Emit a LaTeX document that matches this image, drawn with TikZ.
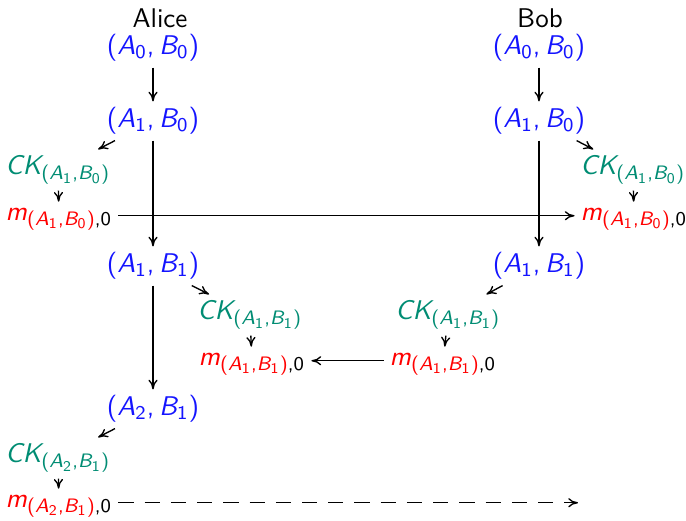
\documentclass[tikz,border=0pt]{standalone}
\usepackage{amsmath}
\usetikzlibrary{arrows.meta}
\DeclareMathSizes{10}{10}{7.2}{5.5}
\definecolor{ckgreen}{RGB}{0,140,115}
\definecolor{stblue}{RGB}{20,20,255}
\newcommand{\sv}[1]{\text{\sffamily\itshape #1}}
\newcommand{\sn}[1]{\text{\sffamily #1}}
\newcommand{\idx}[2]{\sn{(}\sv{A}_{\sn{#1}}\mathpunct{\sn{,}}\sv{B}_{\sn{#2}}\sn{)}}
\newcommand{\pair}[2]{\textcolor{stblue}{$\idx{#1}{#2}$}}
\newcommand{\ck}[2]{\textcolor{ckgreen}{$\sv{CK}_{\idx{#1}{#2}}$}}
\newcommand{\msg}[2]{$\textcolor{red}{\sv{m}}_{\textcolor{red}{\idx{#1}{#2}}\sn{,0}}$}
\begin{document}
\begin{tikzpicture}[x=0.013cm, y=-0.013cm, font=\sffamily, inner sep=2pt,
  line width=0.5pt, >={To[length=3.6pt, width=3.4pt]}]
\useasboundingbox (0,0) rectangle (686,521);
% Alice
\node (alice) at (160,18) {Alice};
\node (a0) at (153,48) {\pair00};
\node (a1) at (153,121) {\pair10};
\node (ack0) at (58,170) {\ck10};
\node (am0) at (59,219) {\msg10};
\node (a2) at (153,266) {\pair11};
\node (ack1) at (250,315) {\ck11};
\node (am1) at (252,364) {\msg11};
\node (a3) at (153,409) {\pair21};
\node (ack2) at (58,458) {\ck21};
\node (am2) at (59,506) {\msg21};
% Bob
\node (bob) at (540,18) {Bob};
\node (b0) at (539,48) {\pair00};
\node (b1) at (539,121) {\pair10};
\node (bck0) at (633,170) {\ck10};
\node (bm0) at (634,219) {\msg10};
\node (b2) at (539,266) {\pair11};
\node (bck1) at (448,315) {\ck11};
\node (bm1) at (443,364) {\msg11};
\coordinate (end) at (578,503);
\draw[->] (a0) -- (a1);
\draw[->] (a1) -- (ack0);
\draw[->] (ack0) -- (am0);
\draw[->] (a1) -- (a2);
\draw[->] (a2) -- (ack1);
\draw[->] (ack1) -- (am1);
\draw[->] (a2) -- (a3);
\draw[->] (a3) -- (ack2);
\draw[->] (ack2) -- (am2);
\draw[->] (b0) -- (b1);
\draw[->] (b1) -- (bck0);
\draw[->] (bck0) -- (bm0);
\draw[->] (b1) -- (b2);
\draw[->] (b2) -- (bck1);
\draw[->] (bck1) -- (bm1);
\draw[->] ([yshift=1.2pt]am0.east) -- ([yshift=1.2pt]bm0.west);
\draw[->] ([yshift=1.2pt]bm1.west) -- ([yshift=1.2pt]am1.east);
\draw[->, dash pattern=on 5.6pt off 4.1pt] ([yshift=1.2pt]am2.east) -- ([yshift=1.2pt]am2.east -| end);
\end{tikzpicture}
\end{document}
